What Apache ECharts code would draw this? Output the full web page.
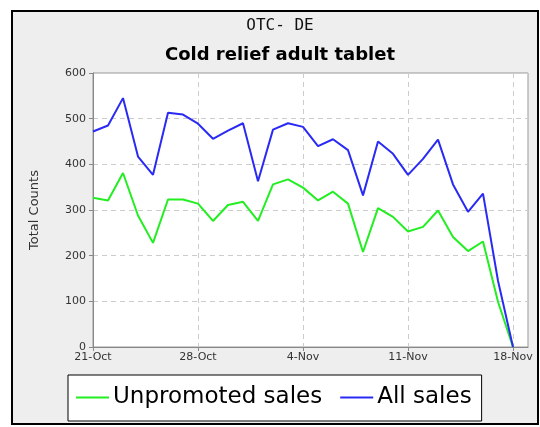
<!DOCTYPE html>
<html>
<head>
    <meta charset="utf-8">
    <title>OTC- DE</title>
    <script src="https://cdn.jsdelivr.net/npm/echarts@6/dist/echarts.min.js"></script>
    <style>
        body { margin: 0; background: #fff; }
    </style>
</head>
<body>
<div id="main" style="width: 540px;height:427px;"></div>
<script type="text/javascript">
    // days shown on the x axis (last one has no data, it just pads the axis)
    var days = ['21-Oct', '22-Oct', '23-Oct', '24-Oct', '25-Oct', '26-Oct', '27-Oct',
        '28-Oct', '29-Oct', '30-Oct', '31-Oct', '1-Nov', '2-Nov', '3-Nov',
        '4-Nov', '5-Nov', '6-Nov', '7-Nov', '8-Nov', '9-Nov', '10-Nov',
        '11-Nov', '12-Nov', '13-Nov', '14-Nov', '15-Nov', '16-Nov', '17-Nov',
        '18-Nov', '19-Nov'];

    var unpromoted = [327, 321, 381, 288, 228, 323, 323, 314, 276, 311,
        318, 276, 356, 367, 349, 321, 340, 314, 208, 304,
        285, 253, 263, 299, 241, 210, 231, 99, 0];

    var allSales = [472, 485, 545, 417, 377, 513, 509, 489, 456, 474,
        490, 363, 476, 490, 482, 440, 455, 431, 332, 450,
        423, 377, 412, 454, 356, 296, 336, 145, 0];

    var yTicks = [0, 100, 200, 300, 400, 500, 600];

    var myChart = echarts.init(document.getElementById('main'));

    var option = {
        backgroundColor: '#fff',
        animation: false,
        graphic: [{
            type: 'rect',
            shape: {x: 12, y: 11, width: 526, height: 413},
            style: {fill: '#eeeeee', stroke: '#000', lineWidth: 2},
            z: -10
        }],
        title: [{
            text: 'OTC- DE',
            left: 275,
            top: 13,
            textAlign: 'center',
            textStyle: {fontFamily: 'DejaVu Sans Mono', fontSize: 16, fontWeight: 'normal', color: '#111'}
        }, {
            text: 'Cold relief adult tablet',
            left: 275,
            top: 41,
            textAlign: 'center',
            textStyle: {fontFamily: 'DejaVu Sans', fontSize: 18, fontWeight: 'bold', color: '#000'}
        }],
        legend: {
            data: ['Unpromoted sales', 'All sales'],
            left: 68,
            top: 375,
            backgroundColor: '#fff',
            borderColor: '#000',
            borderWidth: 1,
            borderRadius: 0,
            padding: [11, 10, 12, 8],
            icon: 'rect',
            itemWidth: 33,
            itemHeight: 2,
            itemGap: 18,
            textStyle: {fontFamily: 'DejaVu Sans', fontSize: 23, color: '#000', padding: [0, 0, 0, -1]}
        },
        grid: {
            left: 93,
            top: 73,
            right: 12,
            bottom: 80,
            show: true,
            backgroundColor: '#fff',
            borderColor: '#999',
            borderWidth: 1
        },
        xAxis: {
            type: 'category',
            boundaryGap: false,
            data: days,
            axisLine: {lineStyle: {color: '#888'}},
            axisTick: {interval: 6, length: 4, lineStyle: {color: '#888'}},
            axisLabel: {interval: 6, fontFamily: 'DejaVu Sans', fontSize: 11, color: '#333', margin: 5},
            splitLine: {show: true, interval: 6, lineStyle: {color: '#cccccc', type: [5, 4]}}
        },
        yAxis: {
            type: 'value',
            min: yTicks[0],
            max: yTicks[yTicks.length - 1],
            interval: 100,
            name: 'Total Counts',
            nameLocation: 'middle',
            nameGap: 52,
            nameTextStyle: {fontFamily: 'DejaVu Sans', fontSize: 13, color: '#333'},
            axisLine: {show: true, lineStyle: {color: '#888'}},
            axisTick: {show: true, length: 4, lineStyle: {color: '#888'}},
            axisLabel: {fontFamily: 'DejaVu Sans', fontSize: 11, color: '#333', margin: 7},
            splitLine: {lineStyle: {color: '#cccccc', type: [5, 4]}}
        },
        series: [{
            name: 'Unpromoted sales',
            type: 'line',
            data: unpromoted,
            symbol: 'none',
            color: '#22ee22',
            lineStyle: {width: 2, color: '#22ee22'}
        }, {
            name: 'All sales',
            type: 'line',
            data: allSales,
            symbol: 'none',
            color: '#2a2af5',
            lineStyle: {width: 2, color: '#2a2af5'}
        }]
    };

    myChart.setOption(option);
</script>
</body>
</html>
